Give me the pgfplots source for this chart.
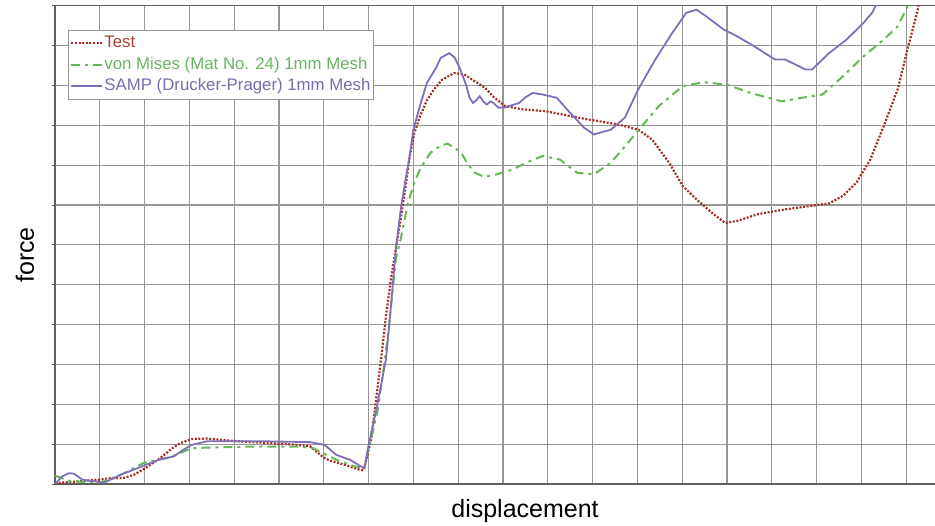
\documentclass[border=0pt]{standalone}
\usepackage{pgfplots}
\pgfplotsset{compat=1.18}
\usepackage{fontspec}
\setmainfont{Liberation Sans}
\definecolor{testc}{RGB}{165,45,35}
\definecolor{testt}{RGB}{165,70,50}
\definecolor{vmc}{RGB}{100,185,85}
\definecolor{vmt}{RGB}{105,180,100}
\definecolor{sampc}{RGB}{128,110,185}
\definecolor{sampt}{RGB}{120,110,170}
\definecolor{gridc}{RGB}{150,150,150}
\definecolor{axc}{RGB}{95,95,95}
\begin{document}
\begin{tikzpicture}
\path[use as bounding box] (0,0) rectangle (935pt,526pt);
\begin{axis}[
  at={(55pt,42pt)}, anchor=south west,
  scale only axis, width=882.5pt, height=478.3pt,
  xmin=0, xmax=19.7, ymin=0, ymax=12,
  xtick={0,...,19}, ytick={0,...,12},
  xticklabels={}, yticklabels={},
  grid=major,
  major grid style={gridc, line width=1.1pt},
  axis line style={axc, line width=1.1pt},
  tick align=outside, major tick length=3pt,
  tick style={axc, line width=0.8pt},
  xtick style={draw=none},
  legend cell align=left,
  legend style={at={(0.0147,0.9498)}, anchor=north west,
    draw=gridc, line width=1pt, fill=white,
    font=\fontsize{16.8}{18}\selectfont,
    inner xsep=2pt, inner ysep=4pt, row sep=3pt,
    nodes={inner sep=1pt, text height=12.5pt, text depth=4pt}},
  legend image code/.code={\draw[#1, line width=2pt] (0pt,0pt) -- (31pt,0pt);},
]
\addplot[testc, line width=2.2pt, dash pattern=on 2pt off 1.6pt] coordinates {
(0,0.02) (0.57,0.07) (1.02,0.11) (1.24,0.15) (1.53,0.15) (1.76,0.23) (2.02,0.40) (2.35,0.65) (2.6,0.88) (2.79,1.02) (3.05,1.13) (3.39,1.14) (3.98,1.08) (4.72,1.03) (5.3,0.99) (5.69,0.95) (5.85,0.8) (6.0,0.66) (6.13,0.59) (6.5,0.47) (6.8,0.36) (6.88,0.34) (6.95,0.6) (7.06,1.14) (7.17,2.14) (7.28,3.15) (7.39,4.23) (7.50,5.15) (7.61,5.91) (7.72,6.66) (7.83,7.50) (7.92,8.23) (8.02,8.8) (8.15,9.23) (8.30,9.62) (8.46,9.90) (8.65,10.15) (8.91,10.31) (9.14,10.27) (9.35,10.12) (9.60,9.94) (9.80,9.7) (10.05,9.48) (10.44,9.40) (10.97,9.35) (11.50,9.23) (11.88,9.15) (12.57,9.02) (13.02,8.89) (13.33,8.64) (13.71,8.06) (14.01,7.48) (14.32,7.14) (14.70,6.77) (14.96,6.55) (15.23,6.60) (15.69,6.77) (16.30,6.89) (16.83,6.97) (17.28,7.04) (17.59,7.23) (17.89,7.56) (18.20,8.14) (18.50,8.98) (18.81,9.90) (19.03,10.90) (19.26,11.90) (19.30,12.3)
};
\addlegendentry{\textcolor{testt}{Test}}
\addplot[vmc, line width=2pt, dash pattern=on 9pt off 5pt on 3pt off 5pt] coordinates {
(0,0.2) (0.05,0.19) (0.3,0.08) (0.64,0.05) (1.02,0.04) (1.31,0.15) (1.65,0.33) (1.98,0.53) (2.50,0.65) (2.8,0.78) (3.05,0.90) (3.61,0.92) (4.35,0.94) (5.46,0.94) (5.76,0.90) (6.06,0.73) (6.35,0.57) (6.72,0.43) (6.91,0.43) (6.98,0.82) (7.09,1.28) (7.21,1.90) (7.35,3.0) (7.46,3.98) (7.54,4.9) (7.61,5.66) (7.72,6.16) (7.87,7.0) (8.0,7.5) (8.15,7.9) (8.38,8.31) (8.6,8.48) (8.76,8.54) (8.9,8.45) (9.07,8.31) (9.2,8.05) (9.37,7.81) (9.55,7.72) (9.75,7.73) (10.21,7.89) (10.6,8.1) (10.89,8.23) (11.27,8.14) (11.65,7.81) (12.03,7.77) (12.41,8.06) (12.79,8.56) (13.10,8.98) (13.48,9.48) (14.01,9.98) (14.47,10.08) (15.00,10.02) (15.53,9.81) (16.22,9.60) (16.68,9.69) (17.13,9.77) (17.59,10.23) (18.05,10.73) (18.50,11.15) (18.81,11.48) (19.03,11.98) (19.1,12.3)
};
\addlegendentry{\textcolor{vmt}{von Mises (Mat No. 24) 1mm Mesh}}
\addplot[sampc, line width=1.8pt] coordinates {
(0,0) (0.16,0.19) (0.31,0.27) (0.42,0.26) (0.61,0.11) (0.87,0.07) (1.09,0.03) (1.24,0.11) (1.46,0.23) (1.76,0.36) (2.02,0.48) (2.35,0.62) (2.65,0.69) (2.85,0.85) (3.05,0.98) (3.39,1.07) (3.98,1.07) (4.72,1.07) (5.69,1.05) (6.02,0.98) (6.28,0.73) (6.58,0.61) (6.83,0.44) (6.91,0.40) (7.0,0.97) (7.13,1.64) (7.28,2.48) (7.39,3.15) (7.46,3.98) (7.54,4.99) (7.61,5.91) (7.72,6.91) (7.83,7.67) (7.91,8.17) (8.0,8.89) (8.15,9.5) (8.30,10.06) (8.51,10.45) (8.61,10.69) (8.80,10.81) (8.92,10.7) (9.03,10.45) (9.18,10.0) (9.25,9.7) (9.33,9.56) (9.40,9.62) (9.48,9.73) (9.56,9.6) (9.64,9.52) (9.72,9.6) (9.79,9.56) (9.90,9.44) (10.07,9.45) (10.13,9.48) (10.36,9.56) (10.5,9.7) (10.66,9.81) (10.89,9.77) (11.20,9.69) (11.35,9.5) (11.50,9.31) (11.81,8.94) (12.03,8.77) (12.41,8.89) (12.72,9.19) (13.02,9.90) (13.40,10.65) (13.78,11.32) (14.09,11.82) (14.32,11.90) (14.54,11.73) (14.93,11.40) (15.23,11.23) (15.61,10.98) (16.07,10.65) (16.30,10.65) (16.75,10.40) (16.90,10.40) (17.28,10.81) (17.67,11.15) (18.05,11.57) (18.24,11.82) (18.32,12.0) (18.4,12.3)
};
\addlegendentry{\textcolor{sampt}{SAMP (Drucker-Prager) 1mm Mesh}}
\end{axis}
\node[font=\fontsize{25}{30}\selectfont, inner sep=0pt] at (525pt,15pt) {displacement};
\node[font=\fontsize{25}{30}\selectfont, inner sep=0pt, rotate=90] at (25pt,271pt) {force};
\end{tikzpicture}
\end{document}
